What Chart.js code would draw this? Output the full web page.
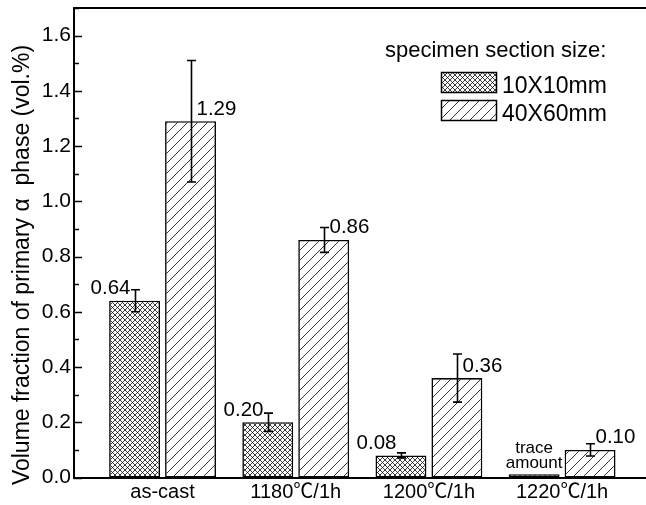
<!DOCTYPE html>
<html><head><meta charset="utf-8">
<script src="https://cdn.jsdelivr.net/npm/chart.js@4.4.1/dist/chart.umd.min.js"></script>
<style>html,body{margin:0;padding:0;background:#fff;overflow:hidden}#wrap{width:646px;height:505px;position:relative}</style>
</head><body><div id="wrap"><canvas id="c" width="646" height="505"></canvas></div>
<script>
const categories = ['as-cast', '1180\u2103/1h', '1200\u2103/1h', '1220\u2103/1h'];
const seriesNames = ['10X10mm', '40X60mm'];
const small = [0.64, 0.20, 0.08, 0.012];
const smallErr = [0.04, 0.033, 0.009, null];
const large = [1.29, 0.86, 0.36, 0.10];
const largeErr = [0.22, 0.045, 0.087, 0.022];
const smallLabels = ['0.64', '0.20', '0.08', null];
const largeLabels = ['1.29', '0.86', '0.36', '0.10'];
const traceNote = ['trace', 'amount'];
const yTicks = [0, 0.2, 0.4, 0.6, 0.8, 1.0, 1.2, 1.4, 1.6];
const yMinorTicks = [0.1, 0.3, 0.5, 0.7, 0.9, 1.1, 1.3, 1.5, 1.7];
const legendTitle = 'specimen section size:';
const yTitle = 'Volume fraction of primary \u03b1  phase (vol.%)';

const FAM = "'Liberation Sans', Arial, sans-serif";
const CJK = "'Noto Sans CJK SC', 'Noto Sans CJK JP', sans-serif";

function crossPattern() {
  const s = 5, c = document.createElement('canvas');
  c.width = s; c.height = s;
  const g = c.getContext('2d');
  g.fillStyle = '#fff'; g.fillRect(0, 0, s, s);
  g.strokeStyle = '#000'; g.lineWidth = 0.75;
  g.beginPath();
  g.moveTo(0, 0); g.lineTo(s, s);
  g.moveTo(s, 0); g.lineTo(0, s);
  g.stroke();
  return g.createPattern(c, 'repeat');
}
function hatchPattern() {
  const s = 10, c = document.createElement('canvas');
  c.width = s; c.height = s;
  const g = c.getContext('2d');
  g.fillStyle = '#fff'; g.fillRect(0, 0, s, s);
  g.strokeStyle = '#000'; g.lineWidth = 0.8;
  g.beginPath();
  g.moveTo(-1, s + 1); g.lineTo(s + 1, -1);
  g.moveTo(-1, 1); g.lineTo(1, -1);
  g.moveTo(s - 1, s + 1); g.lineTo(s + 1, s - 1);
  g.stroke();
  return g.createPattern(c, 'repeat');
}
const patterns = [crossPattern(), hatchPattern()];

function drawMixed(ctx, text, cx, baseline, size) {
  // split on the degree-Celsius sign so it is drawn with a CJK font
  const parts = text.split('\u2103');
  const segs = [];
  parts.forEach((p, i) => {
    if (p) segs.push([p, size + 'px ' + FAM]);
    if (i < parts.length - 1) segs.push(['\u2103', size + 'px ' + CJK]);
  });
  let total = 0;
  segs.forEach(s => { ctx.font = s[1]; s.push(ctx.measureText(s[0]).width); total += s[2]; });
  let xx = cx - total / 2;
  ctx.textAlign = 'left'; ctx.textBaseline = 'alphabetic';
  segs.forEach(s => { ctx.font = s[1]; ctx.fillText(s[0], xx, baseline); xx += s[2]; });
}

const extras = {
  id: 'extras',
  afterDatasetsDraw(chart) {
    const {ctx, chartArea: a, scales: {x, y}} = chart;
    ctx.save();
    ctx.strokeStyle = '#000'; ctx.fillStyle = '#000';
    // top frame line
    ctx.lineWidth = 2;
    ctx.beginPath(); ctx.moveTo(a.left - 1, a.top); ctx.lineTo(chart.width, a.top); ctx.stroke();
    // inward y ticks
    ctx.lineWidth = 1.5;
    yTicks.forEach(v => {
      const py = Math.round(y.getPixelForValue(v)) + 0.5;
      ctx.beginPath(); ctx.moveTo(a.left, py); ctx.lineTo(a.left + 8, py); ctx.stroke();
    });
    yMinorTicks.forEach(v => {
      const py = Math.round(y.getPixelForValue(v)) + 0.5;
      ctx.beginPath(); ctx.moveTo(a.left, py); ctx.lineTo(a.left + 5, py); ctx.stroke();
    });
    // x category labels
    categories.forEach((c, i) => drawMixed(ctx, c, x.getPixelForValue(i), 498, 20));
    // error bars and value labels
    const sets = [[small, smallErr, smallLabels], [large, largeErr, largeLabels]];
    sets.forEach(([vals, errs, labs], di) => {
      const meta = chart.getDatasetMeta(di);
      vals.forEach((v, i) => {
        const bx = Math.round(meta.data[i].x) + 0.5;
        const e = errs[i];
        if (e != null) {
          const yt = y.getPixelForValue(v + e), yb = y.getPixelForValue(v - e);
          ctx.lineWidth = 1.6;
          ctx.beginPath();
          ctx.moveTo(bx, yt); ctx.lineTo(bx, yb);
          ctx.moveTo(bx - 4.5, yt); ctx.lineTo(bx + 4.5, yt);
          ctx.moveTo(bx - 4.5, yb); ctx.lineTo(bx + 4.5, yb);
          ctx.stroke();
        }
        if (labs[i]) {
          ctx.font = '20.5px ' + FAM;
          ctx.textBaseline = 'alphabetic';
          const top = y.getPixelForValue(v);
          if (di === 0) { ctx.textAlign = 'right'; ctx.fillText(labs[i], bx - 5, top - 6.5); }
          else { ctx.textAlign = 'left'; ctx.fillText(labs[i], bx + 5, top - 6.5); }
        }
      });
    });
    // trace amount note
    const tb = chart.getDatasetMeta(0).data[3];
    ctx.font = '17px ' + FAM; ctx.textAlign = 'center'; ctx.textBaseline = 'alphabetic';
    ctx.fillText(traceNote[0], tb.x, 453);
    ctx.fillText(traceNote[1], tb.x, 468);
    // legend
    ctx.font = '22px ' + FAM; ctx.textAlign = 'left';
    ctx.fillText(legendTitle, 385, 57);
    seriesNames.forEach((n, i) => {
      const by = 72 + i * 28;
      ctx.fillStyle = patterns[i];
      ctx.fillRect(441, by, 56, 21);
      ctx.lineWidth = 1.5; ctx.strokeStyle = '#000';
      ctx.strokeRect(441.5, by + 0.5, 55, 20);
      ctx.fillStyle = '#000';
      ctx.font = '23px ' + FAM;
      ctx.fillText(n, 502, by + 20.5);
    });
    // y title
    ctx.save();
    ctx.translate(23, 265);
    ctx.rotate(-Math.PI / 2);
    ctx.font = '23px ' + FAM; ctx.textAlign = 'center'; ctx.textBaseline = 'middle';
    ctx.fillText(yTitle, 0, 0);
    ctx.restore();
    ctx.restore();
  }
};

new Chart(document.getElementById('c'), {
  type: 'bar',
  data: {
    datasets: [
      {label: seriesNames[0], data: small.map((v, i) => ({x: i, y: v})), backgroundColor: patterns[0],
       borderColor: '#000', borderWidth: 1.6, borderSkipped: false},
      {label: seriesNames[1], data: large.map((v, i) => ({x: i, y: v})), backgroundColor: patterns[1],
       borderColor: '#000', borderWidth: 1.6, borderSkipped: false}
    ]
  },
  options: {
    responsive: false, animation: false, devicePixelRatio: 1,
    layout: {padding: {top: 8, right: 0, left: 0, bottom: 0}},
    plugins: {legend: {display: false}, tooltip: {enabled: false}},
    datasets: {bar: {categoryPercentage: 0.84, barPercentage: 0.91}},
    scales: {
      x: {
        type: 'linear', min: -0.665, max: 3.63, offset: false,
        grid: {display: false, drawTicks: false},
        border: {display: true, color: '#000', width: 2},
        afterBuildTicks: s => { s.ticks = categories.map((_, i) => ({value: i})); },
        ticks: {display: false, callback: v => categories[v]},
        afterFit: s => { s.height = 27.5; s.paddingLeft = 0; s.paddingRight = 0; }
      },
      y: {
        min: 0, max: 1.7,
        grid: {display: false, drawTicks: false},
        border: {display: true, color: '#000', width: 2},
        afterBuildTicks: s => { s.ticks = yTicks.map(v => ({value: v})); },
        ticks: {callback: v => v.toFixed(1), color: '#000', padding: 3, font: {family: FAM, size: 21}},
        afterFit: s => { s.width = 74; s.paddingTop = 0; s.paddingBottom = 0; }
      }
    }
  },
  plugins: [extras]
});
</script></body></html>
